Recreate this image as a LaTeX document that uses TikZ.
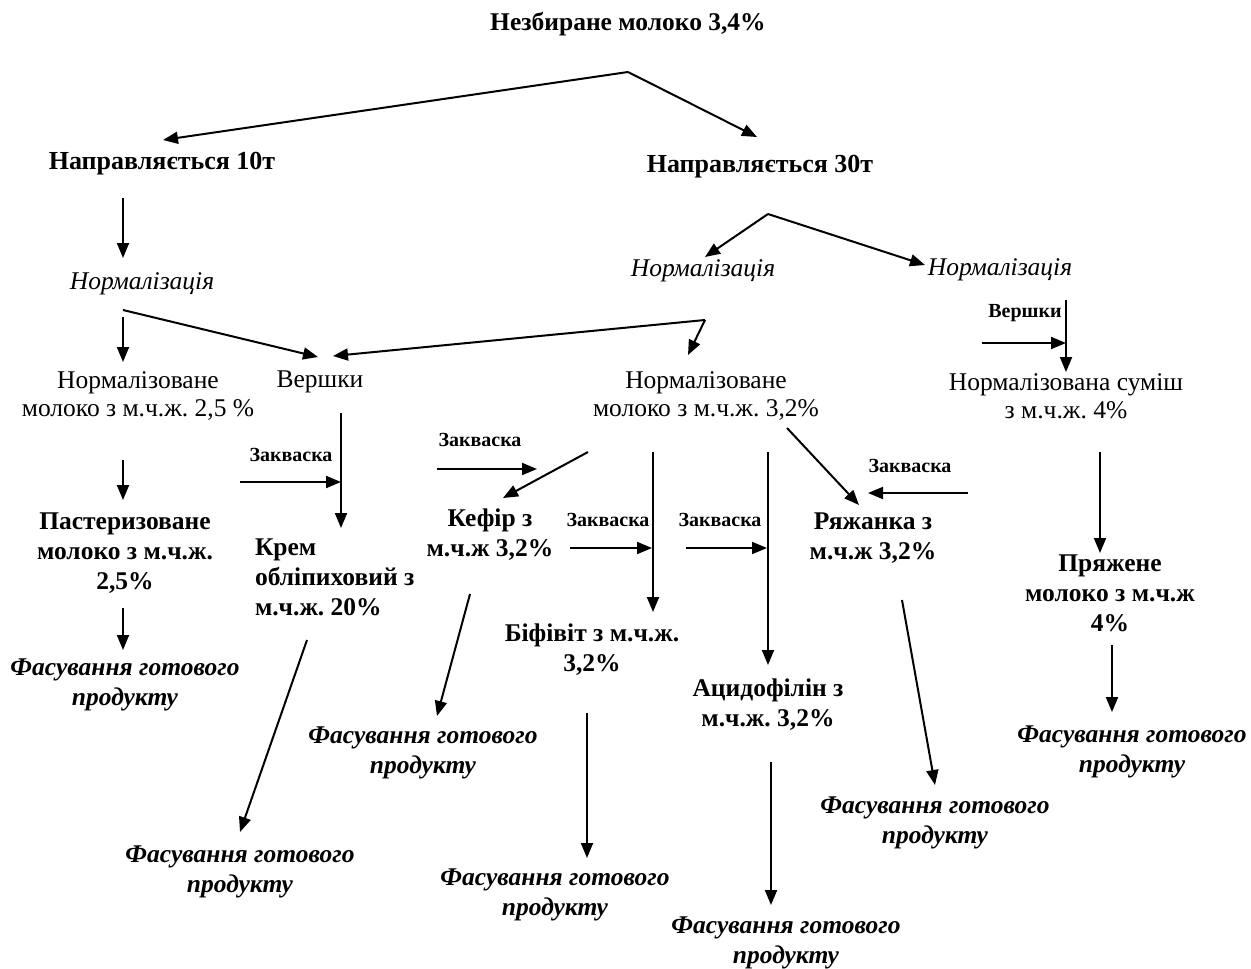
\documentclass[tikz,border=0pt]{standalone}
\usepackage{fontspec}
\setmainfont{Liberation Serif}
\usetikzlibrary{arrows.meta}
\frenchspacing
\begin{document}
\begin{tikzpicture}[x=1pt,y=-1pt,
  every node/.style={inner sep=0pt, outer sep=0pt},
  ttl/.style={font=\fontsize{25.5}{30}\selectfont\bfseries},
  dir/.style={font=\fontsize{26}{30}\selectfont\bfseries},
  nrm/.style={font=\fontsize{25.5}{28}\selectfont, align=center},
  itl/.style={font=\fontsize{25.5}{28}\selectfont\itshape},
  prd/.style={font=\fontsize{25.5}{30}\selectfont\bfseries, align=center},
  pck/.style={font=\fontsize{25.5}{30}\selectfont\bfseries\itshape, align=center},
  zak/.style={font=\fontsize{20}{22}\selectfont\bfseries},
  arr/.style={-{Triangle[length=15pt,width=12pt]}, line width=2pt}
]
\useasboundingbox (0,0) rectangle (1251,969);

% nodes
\node[ttl] (t) at (628,24) {Незбиране молоко 3,4\%};
\node[dir] (n10) at (162,164) {Направляється 10т};
\node[dir] (n30) at (760,167) {Направляється 30т};
\node[itl] (norm1) at (142,284) {Нормалізація};
\node[itl] (norm2) at (703,271) {Нормалізація};
\node[itl] (norm3) at (1000,270) {Нормалізація};
\node[nrm] (nm25) at (138,396) {Нормалізоване\\молоко з м.ч.ж. 2,5 \%};
\node[nrm] (ver) at (320,382) {Вершки};
\node[nrm] (nm32) at (706,396) {Нормалізоване\\молоко з м.ч.ж. 3,2\%};
\node[nrm] (nsum) at (1066,396) {Нормалізована суміш\\з м.ч.ж. 4\%};
\node[zak] (verr) at (1025,313) {Вершки};
\node[prd] (past) at (125,553) {Пастеризоване\\молоко з м.ч.ж.\\2,5\%};
\node[pck] (f1) at (125,685) {Фасування готового\\продукту};
\node[prd, align=left, anchor=west] (krem) at (255,577) {Крем\\обліпиховий з\\м.ч.ж. 20\%};
\node[pck] (f2) at (240,872) {Фасування готового\\продукту};
\node[prd] (kef) at (490,535) {Кефір з\\м.ч.ж 3,2\%};
\node[pck] (f3) at (423,753) {Фасування готового\\продукту};
\node[prd] (bif) at (592,650) {Біфівіт з м.ч.ж.\\3,2\%};
\node[pck] (f4) at (555,895) {Фасування готового\\продукту};
\node[prd] (acid) at (768,705) {Ацидофілін з\\м.ч.ж. 3,2\%};
\node[pck] (f5) at (786,943) {Фасування готового\\продукту};
\node[prd] (ryaz) at (873,538) {Ряжанка з\\м.ч.ж 3,2\%};
\node[pck] (f6) at (935,823) {Фасування готового\\продукту};
\node[prd] (pryaz) at (1110,593) {Пряжене\\молоко з м.ч.ж\\4\%};
\node[pck] (f7) at (1132,752) {Фасування готового\\продукту};
\node[zak] (z1) at (291,455) {Закваска};
\node[zak] (z2) at (480,440) {Закваска};
\node[zak] (z3) at (608,520) {Закваска};
\node[zak] (z4) at (720,520) {Закваска};
\node[zak] (z5) at (910,466) {Закваска};

% connector points
\coordinate (top) at (628,72);
\coordinate (e10) at (163,140);
\coordinate (e30) at (757,137);
\coordinate (a3s) at (123,198); \coordinate (a3e) at (123,258);
\coordinate (a4s) at (123,317); \coordinate (a4e) at (123,362);
\coordinate (a5s) at (123,310); \coordinate (a5e) at (318,357);
\coordinate (b30) at (768,214);
\coordinate (a6e) at (705,257); \coordinate (a7e) at (925,265);
\coordinate (cm) at (705,320);
\coordinate (a8e) at (333,356); \coordinate (a8f) at (688,355);
\coordinate (vs) at (1066,300); \coordinate (ve) at (1066,372);
\coordinate (vh) at (982,343); \coordinate (vj) at (1066,343);
\coordinate (a10s) at (123,460); \coordinate (a10e) at (123,500);
\coordinate (a11s) at (123,608); \coordinate (a11e) at (123,650);
\coordinate (a12s) at (341,413); \coordinate (a12e) at (341,528);
\coordinate (a13s) at (240,482); \coordinate (a13e) at (341,482);
\coordinate (a14s) at (307,640); \coordinate (a14e) at (240,832);
\coordinate (a15s) at (437,469); \coordinate (a15e) at (537,469);
\coordinate (a16s) at (588,452); \coordinate (a16e) at (503,498);
\coordinate (a17s) at (470,594); \coordinate (a17e) at (437,716);
\coordinate (a18s) at (570,548); \coordinate (a18e) at (652,548);
\coordinate (a19s) at (653,452); \coordinate (a19e) at (653,612);
\coordinate (a20s) at (587,713); \coordinate (a20e) at (587,858);
\coordinate (a21s) at (686,548); \coordinate (a21e) at (767,548);
\coordinate (a22s) at (768,452); \coordinate (a22e) at (768,665);
\coordinate (a23s) at (771,762); \coordinate (a23e) at (771,905);
\coordinate (a24s) at (787,428); \coordinate (a24e) at (859,505);
\coordinate (a25s) at (968,493); \coordinate (a25e) at (868,493);
\coordinate (a26s) at (902,600); \coordinate (a26e) at (935,785);
\coordinate (a27s) at (1100,452); \coordinate (a27e) at (1100,553);
\coordinate (a28s) at (1112,645); \coordinate (a28e) at (1112,712);

% connectors
\draw[arr] (top) -- (e10);
\draw[arr] (top) -- (e30);
\draw[arr] (a3s) -- (a3e);
\draw[arr] (a4s) -- (a4e);
\draw[arr] (a5s) -- (a5e);
\draw[arr] (b30) -- (a6e);
\draw[arr] (b30) -- (a7e);
\draw[arr] (cm) -- (a8e);
\draw[arr] (cm) -- (a8f);
\draw[arr] (vs) -- (ve);
\draw[arr] (vh) -- (vj);
\draw[arr] (a10s) -- (a10e);
\draw[arr] (a11s) -- (a11e);
\draw[arr] (a12s) -- (a12e);
\draw[arr] (a13s) -- (a13e);
\draw[arr] (a14s) -- (a14e);
\draw[arr] (a15s) -- (a15e);
\draw[arr] (a16s) -- (a16e);
\draw[arr] (a17s) -- (a17e);
\draw[arr] (a18s) -- (a18e);
\draw[arr] (a19s) -- (a19e);
\draw[arr] (a20s) -- (a20e);
\draw[arr] (a21s) -- (a21e);
\draw[arr] (a22s) -- (a22e);
\draw[arr] (a23s) -- (a23e);
\draw[arr] (a24s) -- (a24e);
\draw[arr] (a25s) -- (a25e);
\draw[arr] (a26s) -- (a26e);
\draw[arr] (a27s) -- (a27e);
\draw[arr] (a28s) -- (a28e);
\end{tikzpicture}
\end{document}
